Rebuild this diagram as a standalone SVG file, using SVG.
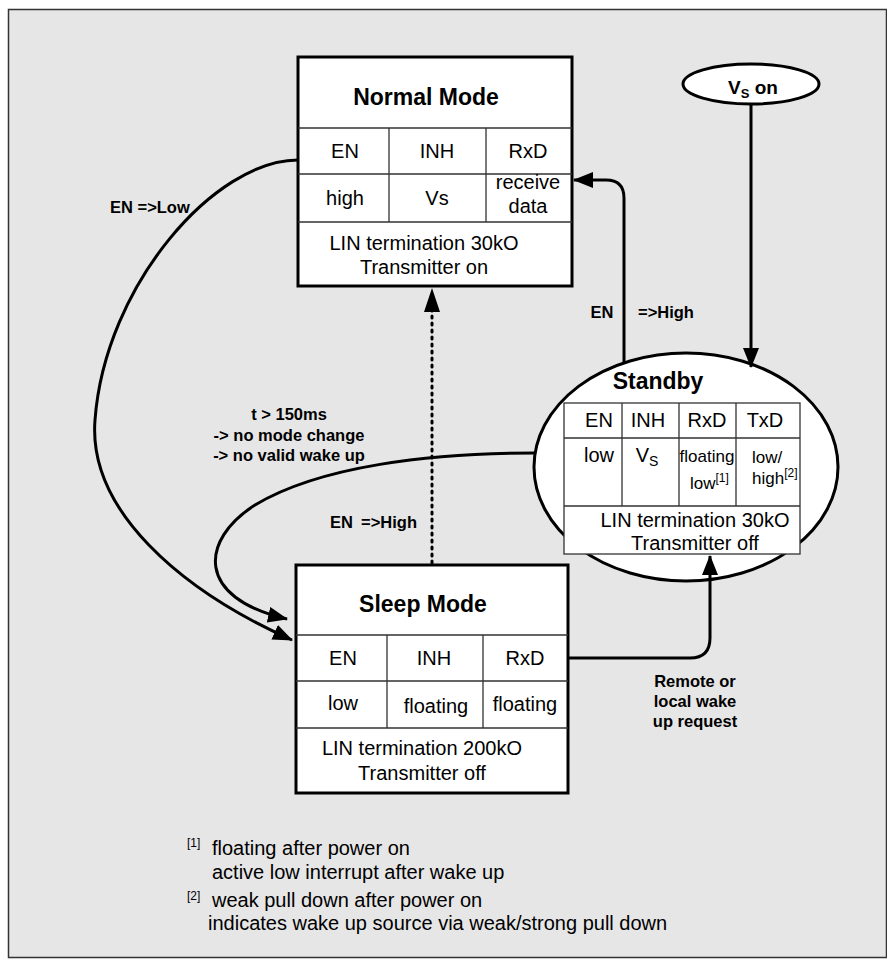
<svg xmlns="http://www.w3.org/2000/svg" width="887" height="968" viewBox="0 0 887 968">
<defs>
<marker id="arr" viewBox="0 0 20 16" refX="19" refY="8" markerWidth="20" markerHeight="16" orient="auto" markerUnits="userSpaceOnUse">
<path d="M0,0 L20,8 L0,16 Z" fill="#000"/>
</marker>
<style>
text{font-family:"Liberation Sans",Arial,sans-serif;fill:#000}
.t{font-size:20px;text-anchor:middle}
.s{font-size:17px}
.ttl{font-size:23px;font-weight:bold;text-anchor:middle}
.lb{font-size:16.5px;font-weight:bold}
.fn{font-size:20px}
.sup{font-size:12px}
.box{fill:#fff;stroke:#000;stroke-width:3}
.grid{stroke:#333;stroke-width:1.3;fill:none}
.conn{fill:none;stroke:#000;stroke-width:3}
</style>
</defs>
<rect x="0" y="0" width="887" height="968" fill="#fff"/>
<rect x="8.5" y="9.5" width="878" height="948" fill="#e6e6e6" stroke="#333" stroke-width="1.5"/>

<g id="normal">
<rect class="box" x="298" y="57" width="274" height="229"/>
<path class="grid" d="M298,128 H572 M298,174 H572 M298,222 H572 M389,128 V222 M486,128 V222"/>
<text class="ttl" x="426" y="105">Normal Mode</text>
<text class="t" x="345" y="158">EN</text>
<text class="t" x="437" y="158">INH</text>
<text class="t" x="528" y="158">RxD</text>
<text class="t" x="345" y="205">high</text>
<text class="t" x="437" y="205">Vs</text>
<text class="t" x="528" y="189">receive</text>
<text class="t" x="528" y="213">data</text>
<text class="t" x="424" y="250">LIN termination 30kO</text>
<text class="t" x="424" y="274">Transmitter on</text>
</g>

<g id="vson">
<ellipse cx="751" cy="84" rx="68" ry="20" fill="#fff" stroke="#000" stroke-width="3"/>
<text x="728" y="94" font-size="19" font-weight="bold">V<tspan font-size="13" dy="4">S</tspan><tspan dy="-4"> on</tspan></text>
</g>

<g id="standby">
<ellipse cx="686" cy="467" rx="152" ry="114" fill="#fff" stroke="#000" stroke-width="3"/>
<text class="ttl" x="658" y="389">Standby</text>
<rect x="564" y="403" width="236" height="151" fill="#fff" stroke="#333" stroke-width="1.3"/>
<path class="grid" d="M564,438 H800 M564,506 H800 M622,403 V506 M679,403 V506 M736,403 V506"/>
<text class="t" x="599" y="427">EN</text>
<text class="t" x="648" y="427">INH</text>
<text class="t" x="707" y="427">RxD</text>
<text class="t" x="765" y="427">TxD</text>
<text class="t" x="599" y="462">low</text>
<text class="t" x="647" y="462">V<tspan font-size="14" dy="4">S</tspan></text>
<text class="s" x="707" y="462" text-anchor="middle">floating</text>
<text class="s" x="690" y="489">low<tspan class="sup" dy="-7">[1]</tspan></text>
<text class="s" x="752" y="463">low/</text>
<text class="s" x="752" y="484">high<tspan class="sup" dy="-7">[2]</tspan></text>
<text class="t" x="695" y="527">LIN termination 30kO</text>
<text class="t" x="695" y="550">Transmitter off</text>
</g>

<g id="sleep">
<rect class="box" x="296" y="565" width="272" height="228"/>
<path class="grid" d="M296,635 H568 M296,681 H568 M296,728 H568 M387,635 V728 M483,635 V728"/>
<text class="ttl" x="423" y="612">Sleep Mode</text>
<text class="t" x="343" y="665">EN</text>
<text class="t" x="434" y="665">INH</text>
<text class="t" x="525" y="665">RxD</text>
<text class="t" x="343" y="710">low</text>
<text class="t" x="436" y="713">floating</text>
<text class="t" x="525" y="711">floating</text>
<text class="t" x="422" y="755">LIN termination 200kO</text>
<text class="t" x="422" y="780">Transmitter off</text>
</g>

<g id="connectors">
<path class="conn" d="M298,160 C215,160 105,285 95,420 C88,510 180,590 292,640" marker-end="url(#arr)"/>
<path class="conn" d="M535,453 C430,453 320,466 255,505 C200,540 195,598 287,619" marker-end="url(#arr)"/>
<path class="conn" d="M624,362 L624,198 Q624,180 606,180 L574,180" marker-end="url(#arr)"/>
<path class="conn" d="M432,563 L432,292" stroke-width="3.5" stroke-dasharray="2 5" stroke-linecap="round"/>
<path d="M424,312 L432,288 L440,312 Z" fill="#000"/>
<path class="conn" d="M751,104 L751,367" marker-end="url(#arr)"/>
<path class="conn" d="M568,658 L690,658 Q710,658 710,638 L710,556" marker-end="url(#arr)"/>
</g>

<g id="labels">
<text class="lb" x="110" y="213">EN =&gt;Low</text>
<text class="lb" x="602" y="318" text-anchor="middle">EN</text>
<text class="lb" x="638" y="318">=&gt;High</text>
<text class="lb" x="289" y="420" text-anchor="middle">t &gt; 150ms</text>
<text class="lb" x="289" y="441" text-anchor="middle">-&gt; no mode change</text>
<text class="lb" x="289" y="461" text-anchor="middle">-&gt; no valid wake up</text>
<text class="lb" x="330" y="528">EN</text>
<text class="lb" x="417" y="528" text-anchor="end">=&gt;High</text>
<text class="lb" x="695" y="687" text-anchor="middle">Remote or</text>
<text class="lb" x="695" y="707" text-anchor="middle">local wake</text>
<text class="lb" x="695" y="727" text-anchor="middle">up request</text>
</g>

<g id="footnotes">
<text class="sup" x="187" y="847">[1]</text>
<text class="fn" x="212" y="855">floating after power on</text>
<text class="fn" x="212" y="879">active low interrupt after wake up</text>
<text class="sup" x="187" y="900">[2]</text>
<text class="fn" x="212" y="907">weak pull down after power on</text>
<text class="fn" x="208" y="930">indicates wake up source via weak/strong pull down</text>
</g>
</svg>
